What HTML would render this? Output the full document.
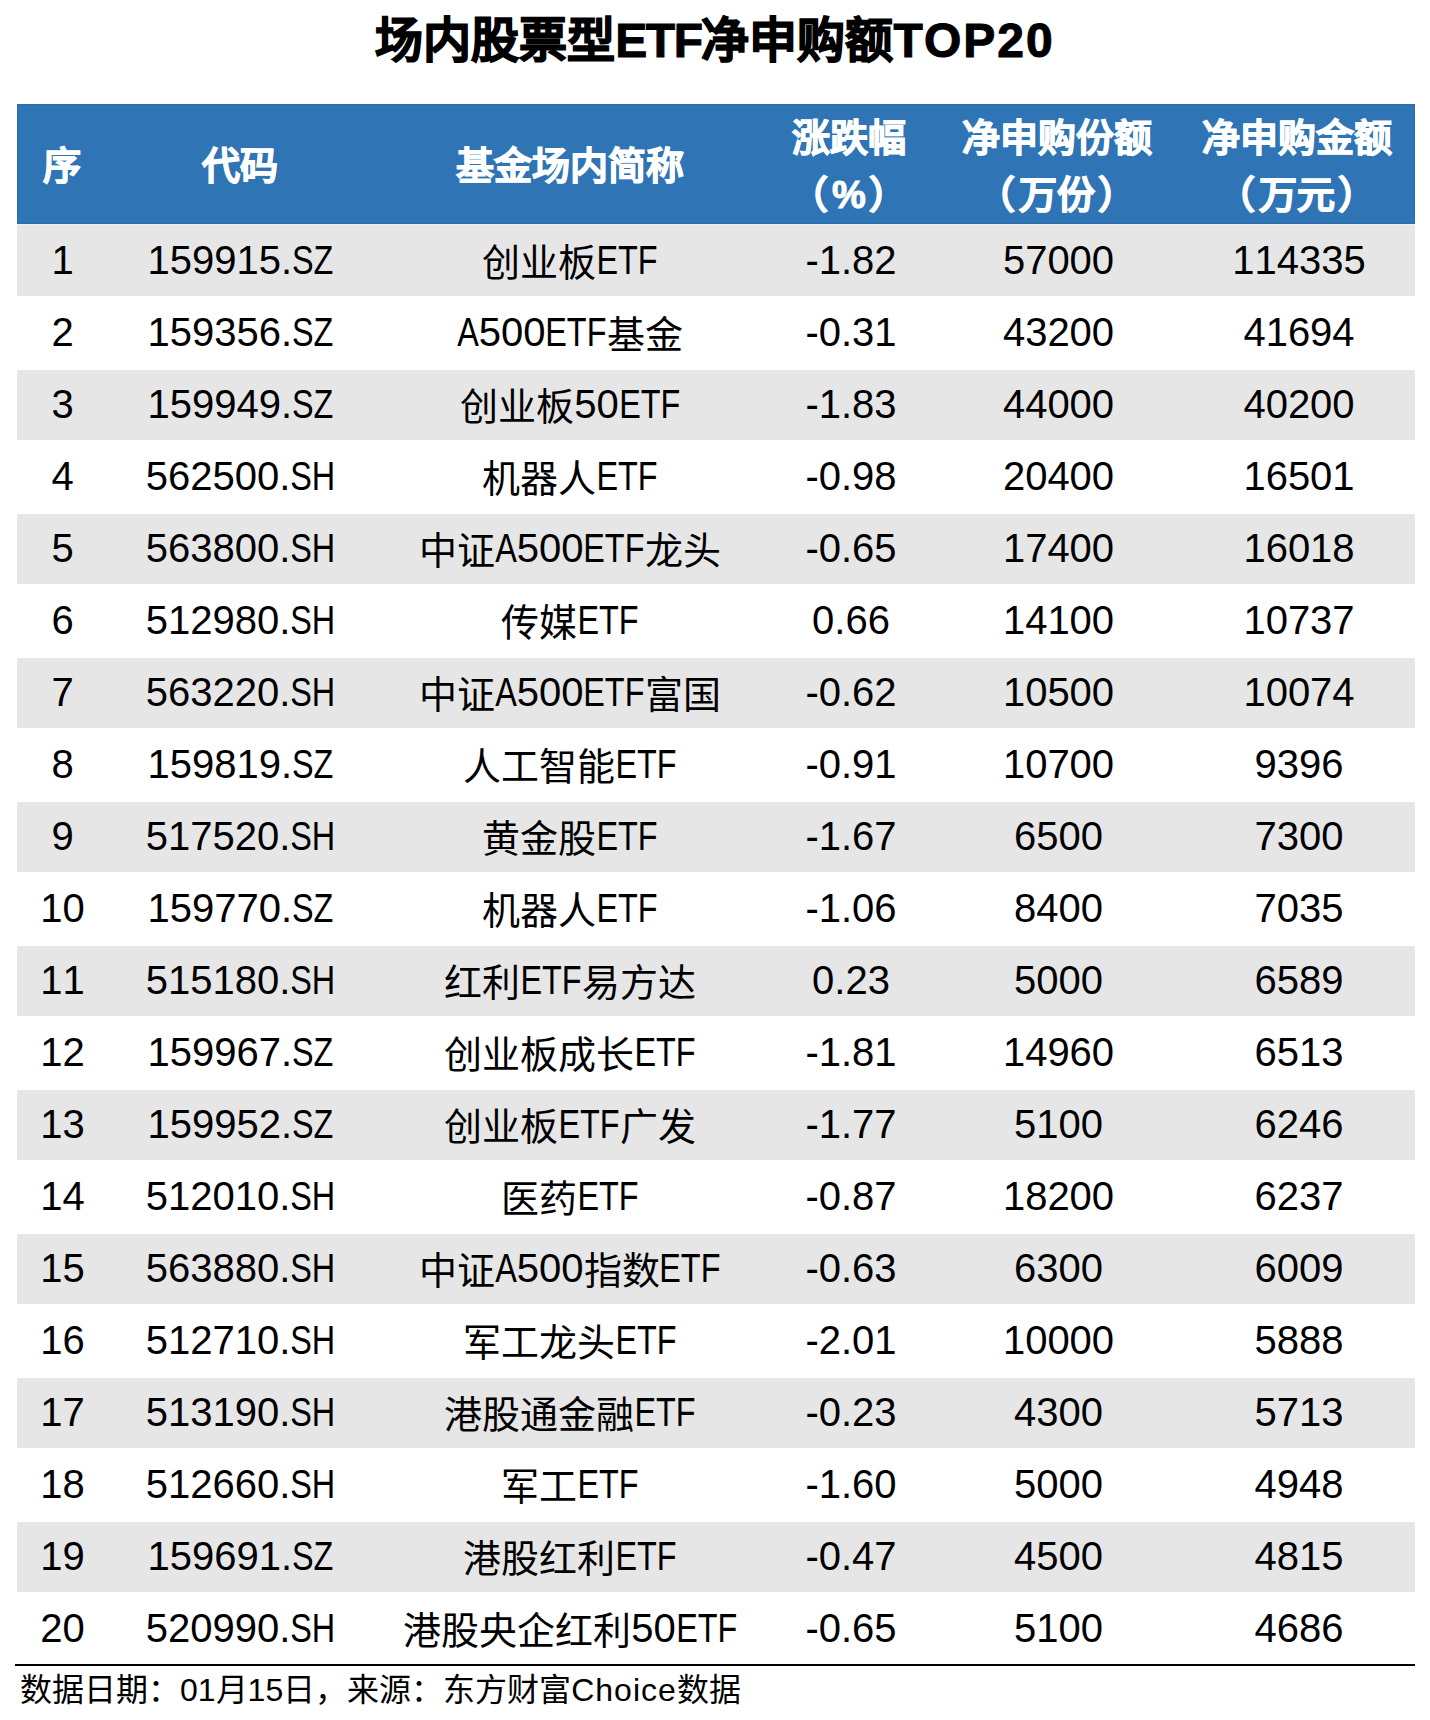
<!DOCTYPE html>
<html lang="zh-CN"><head><meta charset="utf-8">
<style>
html,body{margin:0;padding:0;background:#fff;}
body{width:1430px;height:1720px;position:relative;overflow:hidden;font-family:"Liberation Sans",sans-serif;color:#000;}
.title{position:absolute;left:0;width:1430px;top:11px;height:60px;line-height:60px;text-align:center;font-size:48px;font-weight:bold;white-space:nowrap;}
.title .tk{-webkit-text-stroke:1.3px #000;}
.title .e{letter-spacing:-1.5px;-webkit-text-stroke:1px #000;}
.title .p{letter-spacing:2px;-webkit-text-stroke:1px #000;}
.hdr{position:absolute;left:17px;top:104px;width:1398px;height:120px;background:#2F75B5;box-shadow:inset 0 0 0 1px #286DB2;}
.hl{position:absolute;left:17px;top:224px;width:1398px;height:1px;background:#F2EEEB;}
.row{position:absolute;left:17px;width:1398px;}
.g{background:#E7E6E6;}
.c{position:absolute;width:0;height:72px;line-height:72px;}
.c>span.t{position:absolute;left:0;top:0;transform:translateX(-50%);white-space:nowrap;font-size:40px;font-kerning:none;}
.k{font-size:38px;position:relative;top:1.5px;}
.u{display:inline-block;white-space:nowrap;}
.u>span{display:inline-block;transform:scaleX(0.81);transform-origin:0 50%;}
.h{position:absolute;width:0;color:#fff;font-weight:bold;}
.h>span.t{position:absolute;left:0;transform:translateX(-50%);white-space:nowrap;font-size:38px;line-height:57px;-webkit-text-stroke:1px #fff;}
.bline{position:absolute;left:15px;top:1664px;width:1400px;height:2px;background:#000;}
.foot{position:absolute;left:20px;top:1665px;height:50px;line-height:50px;font-size:32px;white-space:nowrap;}
</style></head><body>
<div class="title"><span class="tk">场内股票型</span><span class="e">ETF</span><span class="tk">净申购额</span><span class="p">TOP20</span></div>
<div class="hdr"></div>
<div class="hl"></div>

<div class="h" style="left:61.5px;top:137.5px"><span class="t">序</span></div>
<div class="h" style="left:240.2px;top:137.5px"><span class="t">代码</span></div>
<div class="h" style="left:570px;top:137.5px"><span class="t">基金场内简称</span></div>
<div class="h" style="left:849px;top:109.5px"><span class="t">涨跌幅</span></div>
<div class="h" style="left:849px;top:166.5px"><span class="t"><span style="position:relative;left:-4px">（</span>%<span style="position:relative;left:3px">）</span></span></div>
<div class="h" style="left:1057px;top:109.5px"><span class="t">净申购份额</span></div>
<div class="h" style="left:1057px;top:166.5px"><span class="t"><span style="position:relative;left:-4px">（</span>万份<span style="position:relative;left:3px">）</span></span></div>
<div class="h" style="left:1297.2px;top:109.5px"><span class="t">净申购金额</span></div>
<div class="h" style="left:1297.2px;top:166.5px"><span class="t"><span style="position:relative;left:-4px">（</span>万元<span style="position:relative;left:3px">）</span></span></div>
<div class="row g" style="top:225px;height:71px"></div>
<div class="c" style="left:62.5px;top:224px"><span class="t">1</span></div>
<div class="c" style="left:240.5px;top:224px"><span class="t">159915.<span class="u" style="width:41.40px"><span>SZ</span></span></span></div>
<div class="c" style="left:570px;top:224px"><span class="t"><span class="k">创业板</span><span class="u" style="width:61.19px"><span>ETF</span></span></span></div>
<div class="c" style="left:851px;top:224px"><span class="t">-1.82</span></div>
<div class="c" style="left:1058.5px;top:224px"><span class="t">57000</span></div>
<div class="c" style="left:1299px;top:224px"><span class="t">114335</span></div>
<div class="c" style="left:62.5px;top:296px"><span class="t">2</span></div>
<div class="c" style="left:240.5px;top:296px"><span class="t">159356.<span class="u" style="width:41.40px"><span>SZ</span></span></span></div>
<div class="c" style="left:570px;top:296px"><span class="t"><span class="u" style="width:21.61px"><span>A</span></span>500<span class="u" style="width:61.19px"><span>ETF</span></span><span class="k">基金</span></span></div>
<div class="c" style="left:851px;top:296px"><span class="t">-0.31</span></div>
<div class="c" style="left:1058.5px;top:296px"><span class="t">43200</span></div>
<div class="c" style="left:1299px;top:296px"><span class="t">41694</span></div>
<div class="row g" style="top:370px;height:70px"></div>
<div class="c" style="left:62.5px;top:368px"><span class="t">3</span></div>
<div class="c" style="left:240.5px;top:368px"><span class="t">159949.<span class="u" style="width:41.40px"><span>SZ</span></span></span></div>
<div class="c" style="left:570px;top:368px"><span class="t"><span class="k">创业板</span>50<span class="u" style="width:61.19px"><span>ETF</span></span></span></div>
<div class="c" style="left:851px;top:368px"><span class="t">-1.83</span></div>
<div class="c" style="left:1058.5px;top:368px"><span class="t">44000</span></div>
<div class="c" style="left:1299px;top:368px"><span class="t">40200</span></div>
<div class="c" style="left:62.5px;top:440px"><span class="t">4</span></div>
<div class="c" style="left:240.5px;top:440px"><span class="t">562500.<span class="u" style="width:45.01px"><span>SH</span></span></span></div>
<div class="c" style="left:570px;top:440px"><span class="t"><span class="k">机器人</span><span class="u" style="width:61.19px"><span>ETF</span></span></span></div>
<div class="c" style="left:851px;top:440px"><span class="t">-0.98</span></div>
<div class="c" style="left:1058.5px;top:440px"><span class="t">20400</span></div>
<div class="c" style="left:1299px;top:440px"><span class="t">16501</span></div>
<div class="row g" style="top:514px;height:70px"></div>
<div class="c" style="left:62.5px;top:512px"><span class="t">5</span></div>
<div class="c" style="left:240.5px;top:512px"><span class="t">563800.<span class="u" style="width:45.01px"><span>SH</span></span></span></div>
<div class="c" style="left:570px;top:512px"><span class="t"><span class="k">中证</span><span class="u" style="width:21.61px"><span>A</span></span>500<span class="u" style="width:61.19px"><span>ETF</span></span><span class="k">龙头</span></span></div>
<div class="c" style="left:851px;top:512px"><span class="t">-0.65</span></div>
<div class="c" style="left:1058.5px;top:512px"><span class="t">17400</span></div>
<div class="c" style="left:1299px;top:512px"><span class="t">16018</span></div>
<div class="c" style="left:62.5px;top:584px"><span class="t">6</span></div>
<div class="c" style="left:240.5px;top:584px"><span class="t">512980.<span class="u" style="width:45.01px"><span>SH</span></span></span></div>
<div class="c" style="left:570px;top:584px"><span class="t"><span class="k">传媒</span><span class="u" style="width:61.19px"><span>ETF</span></span></span></div>
<div class="c" style="left:851px;top:584px"><span class="t">0.66</span></div>
<div class="c" style="left:1058.5px;top:584px"><span class="t">14100</span></div>
<div class="c" style="left:1299px;top:584px"><span class="t">10737</span></div>
<div class="row g" style="top:658px;height:70px"></div>
<div class="c" style="left:62.5px;top:656px"><span class="t">7</span></div>
<div class="c" style="left:240.5px;top:656px"><span class="t">563220.<span class="u" style="width:45.01px"><span>SH</span></span></span></div>
<div class="c" style="left:570px;top:656px"><span class="t"><span class="k">中证</span><span class="u" style="width:21.61px"><span>A</span></span>500<span class="u" style="width:61.19px"><span>ETF</span></span><span class="k">富国</span></span></div>
<div class="c" style="left:851px;top:656px"><span class="t">-0.62</span></div>
<div class="c" style="left:1058.5px;top:656px"><span class="t">10500</span></div>
<div class="c" style="left:1299px;top:656px"><span class="t">10074</span></div>
<div class="c" style="left:62.5px;top:728px"><span class="t">8</span></div>
<div class="c" style="left:240.5px;top:728px"><span class="t">159819.<span class="u" style="width:41.40px"><span>SZ</span></span></span></div>
<div class="c" style="left:570px;top:728px"><span class="t"><span class="k">人工智能</span><span class="u" style="width:61.19px"><span>ETF</span></span></span></div>
<div class="c" style="left:851px;top:728px"><span class="t">-0.91</span></div>
<div class="c" style="left:1058.5px;top:728px"><span class="t">10700</span></div>
<div class="c" style="left:1299px;top:728px"><span class="t">9396</span></div>
<div class="row g" style="top:802px;height:70px"></div>
<div class="c" style="left:62.5px;top:800px"><span class="t">9</span></div>
<div class="c" style="left:240.5px;top:800px"><span class="t">517520.<span class="u" style="width:45.01px"><span>SH</span></span></span></div>
<div class="c" style="left:570px;top:800px"><span class="t"><span class="k">黄金股</span><span class="u" style="width:61.19px"><span>ETF</span></span></span></div>
<div class="c" style="left:851px;top:800px"><span class="t">-1.67</span></div>
<div class="c" style="left:1058.5px;top:800px"><span class="t">6500</span></div>
<div class="c" style="left:1299px;top:800px"><span class="t">7300</span></div>
<div class="c" style="left:62.5px;top:872px"><span class="t">10</span></div>
<div class="c" style="left:240.5px;top:872px"><span class="t">159770.<span class="u" style="width:41.40px"><span>SZ</span></span></span></div>
<div class="c" style="left:570px;top:872px"><span class="t"><span class="k">机器人</span><span class="u" style="width:61.19px"><span>ETF</span></span></span></div>
<div class="c" style="left:851px;top:872px"><span class="t">-1.06</span></div>
<div class="c" style="left:1058.5px;top:872px"><span class="t">8400</span></div>
<div class="c" style="left:1299px;top:872px"><span class="t">7035</span></div>
<div class="row g" style="top:946px;height:70px"></div>
<div class="c" style="left:62.5px;top:944px"><span class="t">11</span></div>
<div class="c" style="left:240.5px;top:944px"><span class="t">515180.<span class="u" style="width:45.01px"><span>SH</span></span></span></div>
<div class="c" style="left:570px;top:944px"><span class="t"><span class="k">红利</span><span class="u" style="width:61.19px"><span>ETF</span></span><span class="k">易方达</span></span></div>
<div class="c" style="left:851px;top:944px"><span class="t">0.23</span></div>
<div class="c" style="left:1058.5px;top:944px"><span class="t">5000</span></div>
<div class="c" style="left:1299px;top:944px"><span class="t">6589</span></div>
<div class="c" style="left:62.5px;top:1016px"><span class="t">12</span></div>
<div class="c" style="left:240.5px;top:1016px"><span class="t">159967.<span class="u" style="width:41.40px"><span>SZ</span></span></span></div>
<div class="c" style="left:570px;top:1016px"><span class="t"><span class="k">创业板成长</span><span class="u" style="width:61.19px"><span>ETF</span></span></span></div>
<div class="c" style="left:851px;top:1016px"><span class="t">-1.81</span></div>
<div class="c" style="left:1058.5px;top:1016px"><span class="t">14960</span></div>
<div class="c" style="left:1299px;top:1016px"><span class="t">6513</span></div>
<div class="row g" style="top:1090px;height:70px"></div>
<div class="c" style="left:62.5px;top:1088px"><span class="t">13</span></div>
<div class="c" style="left:240.5px;top:1088px"><span class="t">159952.<span class="u" style="width:41.40px"><span>SZ</span></span></span></div>
<div class="c" style="left:570px;top:1088px"><span class="t"><span class="k">创业板</span><span class="u" style="width:61.19px"><span>ETF</span></span><span class="k">广发</span></span></div>
<div class="c" style="left:851px;top:1088px"><span class="t">-1.77</span></div>
<div class="c" style="left:1058.5px;top:1088px"><span class="t">5100</span></div>
<div class="c" style="left:1299px;top:1088px"><span class="t">6246</span></div>
<div class="c" style="left:62.5px;top:1160px"><span class="t">14</span></div>
<div class="c" style="left:240.5px;top:1160px"><span class="t">512010.<span class="u" style="width:45.01px"><span>SH</span></span></span></div>
<div class="c" style="left:570px;top:1160px"><span class="t"><span class="k">医药</span><span class="u" style="width:61.19px"><span>ETF</span></span></span></div>
<div class="c" style="left:851px;top:1160px"><span class="t">-0.87</span></div>
<div class="c" style="left:1058.5px;top:1160px"><span class="t">18200</span></div>
<div class="c" style="left:1299px;top:1160px"><span class="t">6237</span></div>
<div class="row g" style="top:1234px;height:70px"></div>
<div class="c" style="left:62.5px;top:1232px"><span class="t">15</span></div>
<div class="c" style="left:240.5px;top:1232px"><span class="t">563880.<span class="u" style="width:45.01px"><span>SH</span></span></span></div>
<div class="c" style="left:570px;top:1232px"><span class="t"><span class="k">中证</span><span class="u" style="width:21.61px"><span>A</span></span>500<span class="k">指数</span><span class="u" style="width:61.19px"><span>ETF</span></span></span></div>
<div class="c" style="left:851px;top:1232px"><span class="t">-0.63</span></div>
<div class="c" style="left:1058.5px;top:1232px"><span class="t">6300</span></div>
<div class="c" style="left:1299px;top:1232px"><span class="t">6009</span></div>
<div class="c" style="left:62.5px;top:1304px"><span class="t">16</span></div>
<div class="c" style="left:240.5px;top:1304px"><span class="t">512710.<span class="u" style="width:45.01px"><span>SH</span></span></span></div>
<div class="c" style="left:570px;top:1304px"><span class="t"><span class="k">军工龙头</span><span class="u" style="width:61.19px"><span>ETF</span></span></span></div>
<div class="c" style="left:851px;top:1304px"><span class="t">-2.01</span></div>
<div class="c" style="left:1058.5px;top:1304px"><span class="t">10000</span></div>
<div class="c" style="left:1299px;top:1304px"><span class="t">5888</span></div>
<div class="row g" style="top:1378px;height:70px"></div>
<div class="c" style="left:62.5px;top:1376px"><span class="t">17</span></div>
<div class="c" style="left:240.5px;top:1376px"><span class="t">513190.<span class="u" style="width:45.01px"><span>SH</span></span></span></div>
<div class="c" style="left:570px;top:1376px"><span class="t"><span class="k">港股通金融</span><span class="u" style="width:61.19px"><span>ETF</span></span></span></div>
<div class="c" style="left:851px;top:1376px"><span class="t">-0.23</span></div>
<div class="c" style="left:1058.5px;top:1376px"><span class="t">4300</span></div>
<div class="c" style="left:1299px;top:1376px"><span class="t">5713</span></div>
<div class="c" style="left:62.5px;top:1448px"><span class="t">18</span></div>
<div class="c" style="left:240.5px;top:1448px"><span class="t">512660.<span class="u" style="width:45.01px"><span>SH</span></span></span></div>
<div class="c" style="left:570px;top:1448px"><span class="t"><span class="k">军工</span><span class="u" style="width:61.19px"><span>ETF</span></span></span></div>
<div class="c" style="left:851px;top:1448px"><span class="t">-1.60</span></div>
<div class="c" style="left:1058.5px;top:1448px"><span class="t">5000</span></div>
<div class="c" style="left:1299px;top:1448px"><span class="t">4948</span></div>
<div class="row g" style="top:1522px;height:70px"></div>
<div class="c" style="left:62.5px;top:1520px"><span class="t">19</span></div>
<div class="c" style="left:240.5px;top:1520px"><span class="t">159691.<span class="u" style="width:41.40px"><span>SZ</span></span></span></div>
<div class="c" style="left:570px;top:1520px"><span class="t"><span class="k">港股红利</span><span class="u" style="width:61.19px"><span>ETF</span></span></span></div>
<div class="c" style="left:851px;top:1520px"><span class="t">-0.47</span></div>
<div class="c" style="left:1058.5px;top:1520px"><span class="t">4500</span></div>
<div class="c" style="left:1299px;top:1520px"><span class="t">4815</span></div>
<div class="c" style="left:62.5px;top:1592px"><span class="t">20</span></div>
<div class="c" style="left:240.5px;top:1592px"><span class="t">520990.<span class="u" style="width:45.01px"><span>SH</span></span></span></div>
<div class="c" style="left:570px;top:1592px"><span class="t"><span class="k">港股央企红利</span>50<span class="u" style="width:61.19px"><span>ETF</span></span></span></div>
<div class="c" style="left:851px;top:1592px"><span class="t">-0.65</span></div>
<div class="c" style="left:1058.5px;top:1592px"><span class="t">5100</span></div>
<div class="c" style="left:1299px;top:1592px"><span class="t">4686</span></div>
<div class="bline"></div>
<div class="foot">数据日期：01月15日，来源：东方财富<span style="letter-spacing:1px">Choice</span>数据</div>
</body></html>
